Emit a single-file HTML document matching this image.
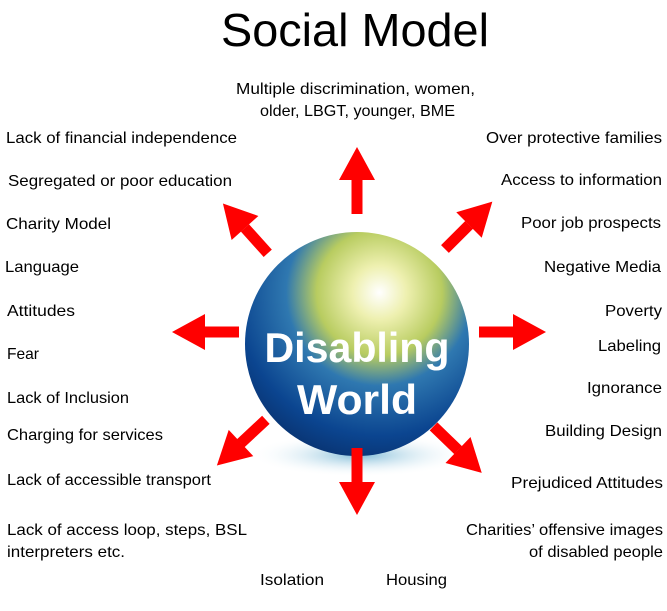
<!DOCTYPE html>
<html><head><meta charset="utf-8"><style>
html,body{margin:0;padding:0;background:#fff;}
svg{display:block}
text{font-family:"Liberation Sans",sans-serif;fill:#000;}
.t{font-size:16px}
</style></head><body>
<svg width="667" height="611" viewBox="0 0 667 611" xmlns="http://www.w3.org/2000/svg">
<defs>
<radialGradient id="g" cx="0.6" cy="0.27" r="0.8">
<stop offset="0" stop-color="#ffffff"/>
<stop offset="0.15" stop-color="#eef0b0"/>
<stop offset="0.35" stop-color="#b8cc60"/>
<stop offset="0.52" stop-color="#2f78b0"/>
<stop offset="0.8" stop-color="#0b4590"/>
<stop offset="1" stop-color="#082f6a"/>
</radialGradient>
<radialGradient id="sh" cx="0.5" cy="0.5" r="0.5">
<stop offset="0" stop-color="#4aa0c8" stop-opacity="0.7"/>
<stop offset="1" stop-color="#ffffff" stop-opacity="0"/>
</radialGradient>
<g id="ar"><polygon points="0,-5.5 -34,-5.5 -34,5.5 0,5.5 0,-18 33,0 0,18" fill="#ff0000"/></g>
</defs>
<text x="355" y="46" font-size="46" text-anchor="middle" textLength="268" lengthAdjust="spacingAndGlyphs">Social Model</text>
<text class="t" x="236" y="94" textLength="239" lengthAdjust="spacingAndGlyphs">Multiple discrimination, women,</text>
<text class="t" x="260" y="116" textLength="195" lengthAdjust="spacingAndGlyphs">older, LBGT, younger, BME</text>

<ellipse cx="360" cy="455" rx="110" ry="22" fill="url(#sh)"/>
<circle cx="357" cy="344" r="112" fill="url(#g)"/>
<text x="357" y="362" font-size="42" font-weight="bold" text-anchor="middle" style="fill:#fff" textLength="185" lengthAdjust="spacingAndGlyphs">Disabling</text>
<text x="357" y="414" font-size="42" font-weight="bold" text-anchor="middle" style="fill:#fff" textLength="120" lengthAdjust="spacingAndGlyphs">World</text>

<use href="#ar" transform="translate(357,180) rotate(-90)"/>
<use href="#ar" transform="translate(357,482) rotate(90)"/>
<use href="#ar" transform="translate(205,332) rotate(180)"/>
<use href="#ar" transform="translate(513,332)"/>
<use href="#ar" transform="translate(245,228) rotate(-132)"/>
<use href="#ar" transform="translate(469,225) rotate(-45)"/>
<use href="#ar" transform="translate(241,443) rotate(137)"/>
<use href="#ar" transform="translate(458,450) rotate(44)"/>

<g class="t">
<text class="t" x="6" y="143" textLength="231" lengthAdjust="spacingAndGlyphs">Lack of financial independence</text>
<text class="t" x="8" y="186" textLength="224" lengthAdjust="spacingAndGlyphs">Segregated or poor education</text>
<text class="t" x="6" y="229" textLength="105" lengthAdjust="spacingAndGlyphs">Charity Model</text>
<text class="t" x="5" y="272" textLength="74" lengthAdjust="spacingAndGlyphs">Language</text>
<text class="t" x="7" y="316" textLength="68" lengthAdjust="spacingAndGlyphs">Attitudes</text>
<text class="t" x="7" y="359" textLength="32" lengthAdjust="spacingAndGlyphs">Fear</text>
<text class="t" x="7" y="403" textLength="122" lengthAdjust="spacingAndGlyphs">Lack of Inclusion</text>
<text class="t" x="7" y="440" textLength="156" lengthAdjust="spacingAndGlyphs">Charging for services</text>
<text class="t" x="7" y="485" textLength="204" lengthAdjust="spacingAndGlyphs">Lack of accessible transport</text>
<text class="t" x="7" y="535" textLength="240" lengthAdjust="spacingAndGlyphs">Lack of access loop, steps, BSL</text>
<text class="t" x="7" y="557" textLength="118" lengthAdjust="spacingAndGlyphs">interpreters etc.</text>
<text class="t" x="260" y="585" textLength="64" lengthAdjust="spacingAndGlyphs">Isolation</text>
<text class="t" x="386" y="585" textLength="61" lengthAdjust="spacingAndGlyphs">Housing</text>
<text class="t" x="486" y="143" textLength="176" lengthAdjust="spacingAndGlyphs">Over protective families</text>
<text class="t" x="501" y="185" textLength="161" lengthAdjust="spacingAndGlyphs">Access to information</text>
<text class="t" x="521" y="228" textLength="140" lengthAdjust="spacingAndGlyphs">Poor job prospects</text>
<text class="t" x="544" y="272" textLength="117" lengthAdjust="spacingAndGlyphs">Negative Media</text>
<text class="t" x="605" y="316" textLength="57" lengthAdjust="spacingAndGlyphs">Poverty</text>
<text class="t" x="598" y="351" textLength="63" lengthAdjust="spacingAndGlyphs">Labeling</text>
<text class="t" x="587" y="393" textLength="75" lengthAdjust="spacingAndGlyphs">Ignorance</text>
<text class="t" x="545" y="436" textLength="117" lengthAdjust="spacingAndGlyphs">Building Design</text>
<text class="t" x="511" y="488" textLength="152" lengthAdjust="spacingAndGlyphs">Prejudiced Attitudes</text>
<text class="t" x="466" y="535" textLength="197" lengthAdjust="spacingAndGlyphs">Charities’ offensive images</text>
<text class="t" x="529" y="557" textLength="134" lengthAdjust="spacingAndGlyphs">of disabled people</text>
</g>
</svg>
</body></html>
